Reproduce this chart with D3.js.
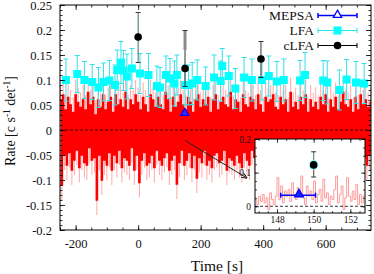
<!DOCTYPE html>
<html><head><meta charset="utf-8">
<script src="https://cdn.jsdelivr.net/npm/d3@7"></script>
<style>body{margin:0;background:#fff}svg{display:block}text{font-family:"Liberation Serif","DejaVu Serif",serif;fill:#111}</style>
</head><body><div id="chart"></div>
<script>
// ---------- DATA ----------
const lcStart = -250, lcBin = 4; // seconds
const lcRate = [
0.06,-0.11,0.07,-0.05,0.04,-0.07,0.065,-0.045,0.05,-0.08,
0.035,-0.06,0.07,-0.04,0.055,-0.075,0.045,-0.05,0.06,-0.065,
0.04,-0.07,0.075,-0.035,0.05,-0.06,0.065,-0.055,0.03,-0.14,
0.06,-0.05,0.045,-0.1,0.07,-0.06,0.04,-0.07,0.055,-0.045,
0.065,-0.08,0.035,-0.05,0.07,-0.065,0.05,-0.04,0.06,-0.075,
0.045,-0.055,0.075,-0.06,0.04,-0.07,0.06,-0.035,0.05,-0.08,
0.07,-0.05,0.055,-0.105,0.04,-0.06,0.065,-0.045,0.05,-0.07,
0.035,-0.065,0.07,-0.05,0.06,-0.075,0.045,-0.04,0.065,-0.06,
0.05,-0.07,0.04,-0.055,0.075,-0.045,0.06,-0.08,0.035,-0.06,
0.065,-0.05,0.045,-0.108,0.055,-0.065,0.07,-0.04,0.05,-0.07,
0.04,-0.06,0.065,-0.045,0.055,-0.075,0.035,-0.05,0.06,-0.096,
0.07,-0.055,0.045,-0.065,0.06,-0.04,0.05,-0.07,0.065,-0.06,
0.035,-0.075,0.06,-0.05,0.07,-0.045,0.04,-0.065,0.055,-0.06,
0.065,-0.04,0.05,-0.08,0.045,-0.055,0.075,-0.06,0.04,-0.07,
0.06,-0.05,0.055,-0.065,0.035,-0.075,0.07,-0.045,0.05,-0.06,
0.045,-0.07,0.065,-0.04,0.06,-0.055,0.04,-0.08,0.07,-0.05,
0.05,-0.06,0.035,-0.07,0.065,-0.045,0.055,-0.065,0.06,-0.04,
0.07,-0.075,0.045,-0.05,0.04,-0.06,0.065,-0.07,0.05,-0.055,
0.06,-0.045,0.035,-0.065,0.075,-0.05,0.045,-0.08,0.055,-0.06,
0.04,-0.07,0.065,-0.04,0.05,-0.055,0.07,-0.065,0.035,-0.05,
0.06,-0.075,0.045,-0.06,0.055,-0.045,0.04,-0.07,0.065,-0.05,
0.05,-0.06,0.07,-0.08,0.035,-0.055,0.06,-0.045,0.045,-0.07,
0.065,-0.05,0.04,-0.065,0.055,-0.06,0.075,-0.04,0.05,-0.075,
0.045,-0.055,0.06,-0.07,0.035,-0.05,0.065,-0.06,0.04,-0.045,
0.07,-0.065,0.05,-0.055,0.06,-0.07,0.045,-0.05,0.055];
const lcErr = 0.03;

const lfaTime = [-231,-195,-172,-147,-127,-111,-92,-74,-67,-55,-47,-36,-20,6,33,60,70,89,102,116,124,150,161,173,189,216,243,264,269,290,311,339,364,396,418,444,466,518,534,592,605,644,667,697,723];
const lfaRate = [0.10,0.112,0.10,0.096,0.085,0.096,0.099,0.09,0.12,0.135,0.119,0.107,0.123,0.113,0.11,0.088,0.085,0.11,0.103,0.093,0.11,0.09,0.09,0.093,0.10,0.088,0.105,0.098,0.128,0.108,0.083,0.105,0.10,0.10,0.108,0.097,0.10,0.099,0.11,0.099,0.095,0.08,0.101,0.095,0.093];
const lfaErr  = [0.042,0.037,0.037,0.035,0.04,0.038,0.04,0.04,0.04,0.042,0.04,0.045,0.04,0.04,0.043,0.04,0.04,0.038,0.04,0.045,0.04,0.04,0.04,0.042,0.04,0.038,0.045,0.04,0.035,0.04,0.04,0.04,0.042,0.04,0.04,0.04,0.042,0.04,0.045,0.04,0.043,0.04,0.04,0.042,0.04];

const clfaTime = [0,150,393];
const clfaRate = [0.186,0.123,0.142];
const clfaLo   = [0.135,0.087,0.105];
const clfaHi   = [0.235,0.199,0.177];

const mepsaTime = [149.2], mepsaRate = [0.033], mepsaTLo = [148.2], mepsaTHi = [150.1];

const fineStart = 146.8, fineBin = 0.1;
const fineRate = [
0.02,0.005,0.03,0.015,0.035,0.01,0.025,-0.01,0.04,0.02,
0.005,0.03,0.085,0.02,0.06,0.01,0.045,0.03,0.05,0.015,
0.07,0.035,0.02,0.055,0.04,0.09,0.025,0.005,0.06,0.03,
0.045,0.02,0.075,0.01,0.035,0.05,0.015,0.08,0.025,0.04,
0.005,0.03,0.02,0.05,0.09,0.01,0.035,0.06,-0.01,0.025,
0.085,0.03,0.015,0.045,0.02,0.065,0.005,0.035,0.01,0.03];

const xTicks = [-200,0,200,400,600];
const yTicks = [-0.2,-0.15,-0.1,-0.05,0,0.05,0.1,0.15,0.2,0.25];
const insetXTicks = [148,150,152];
const insetYTicks = [0,0.1,0.2];
const legendLabels = ["MEPSA","LFA","cLFA"];

// ---------- DRAW ----------
const W=374,H=274;
const svg=d3.select("#chart").append("svg").attr("width",W).attr("height",H);
const L=60,R=371,T=5,B=230;
const x=d3.scaleLinear().domain([-250,745]).range([L,R]);
const y=d3.scaleLinear().domain([-0.2,0.25]).range([B,T]);
const fmt=d=>String(+d.toFixed(3));

svg.append("clipPath").attr("id","cm").append("rect").attr("x",L).attr("y",T).attr("width",R-L).attr("height",B-T);
const pm=svg.append("g").attr("clip-path","url(#cm)");

const lc=lcRate.map((v,i)=>({t:lcStart+i*lcBin,v}));
// pale error bars
pm.append("g").selectAll("line").data(lc).join("line")
  .attr("x1",d=>x(d.t+lcBin/2)).attr("x2",d=>x(d.t+lcBin/2))
  .attr("y1",d=>y(d.v-lcErr)).attr("y2",d=>y(d.v+lcErr))
  .attr("stroke","#ffa8a8").attr("stroke-width",1);
const lcStep=lc.concat([{t:lcStart+lc.length*lcBin,v:lcRate[lcRate.length-1]}]);
pm.append("path").datum(lcStep)
  .attr("d",d3.line().x(d=>x(d.t)).y(d=>y(d.v)).curve(d3.curveStepAfter))
  .attr("fill","none").attr("stroke","#ff0000").attr("stroke-width",1.4);

// zero line
pm.append("line").attr("x1",L).attr("x2",R).attr("y1",y(0)).attr("y2",y(0))
  .attr("stroke","#000").attr("stroke-width",0.8).attr("stroke-dasharray","3,2");

// arrow
svg.append("defs").append("marker").attr("id","ah").attr("viewBox","0 0 10 10").attr("refX",9).attr("refY",5)
  .attr("markerWidth",6).attr("markerHeight",6).attr("orient","auto")
  .append("path").attr("d","M0,1 L10,5 L0,9").attr("fill","none").attr("stroke","#222").attr("stroke-width",1.5);
svg.append("line").attr("x1",x(150)).attr("y1",y(-0.021)).attr("x2",x(348)).attr("y2",y(-0.096))
  .attr("stroke","#222").attr("stroke-width",1).attr("marker-end","url(#ah)");

// LFA
const lfa=lfaTime.map((t,i)=>({t,v:lfaRate[i],e:lfaErr[i]}));
const gl=pm.append("g");
lfa.forEach(d=>{
  const cx=x(d.t);
  gl.append("line").attr("x1",cx).attr("x2",cx).attr("y1",y(d.v-d.e)).attr("y2",y(d.v+d.e)).attr("stroke","#33e0e8").attr("stroke-width",1);
  [d.v-d.e,d.v+d.e].forEach(v=>gl.append("line").attr("x1",cx-2.5).attr("x2",cx+2.5).attr("y1",y(v)).attr("y2",y(v)).attr("stroke","#33e0e8").attr("stroke-width",1));
});
gl.selectAll("rect").data(lfa).join("rect").attr("x",d=>x(d.t)-4).attr("y",d=>y(d.v)-4).attr("width",8).attr("height",8).attr("fill","#00ffff");

// cLFA
const clfa=clfaTime.map((t,i)=>({t,v:clfaRate[i],lo:clfaLo[i],hi:clfaHi[i]}));
const gc=pm.append("g");
clfa.forEach((d,i)=>{
  const cx=x(d.t);
  gc.append("line").attr("x1",cx).attr("x2",cx).attr("y1",y(d.lo)).attr("y2",y(d.hi)).attr("stroke",i==0?"#3d6d6d":"#333").attr("stroke-width",1);
  if(i==1) gc.append("line").attr("x1",cx).attr("x2",cx).attr("y1",y(0.16)).attr("y2",y(d.hi)).attr("stroke","#8a8a8a").attr("stroke-width",3);
  [d.lo,d.hi].forEach(v=>gc.append("line").attr("x1",cx-2.5).attr("x2",cx+2.5).attr("y1",y(v)).attr("y2",y(v)).attr("stroke","#333").attr("stroke-width",1));
  gc.append("circle").attr("cx",cx).attr("cy",y(d.v)).attr("r",3.8).attr("fill","#000");
});

// MEPSA main
mepsaTime.forEach((t,i)=>{
  const cx=x(t),cy=y(mepsaRate[i]);
  pm.append("path").attr("d",d3.symbol(d3.symbolTriangle,28)()).attr("transform",`translate(${cx},${cy-0.5})`)
    .attr("fill","#3030ff").attr("stroke","#0000ff").attr("stroke-width",1.2);
});

// ---------- main axes ----------
function styleAxis(g){g.select(".domain").remove();g.selectAll("line").attr("stroke","#000").attr("stroke-width",0.8);g.selectAll("text").attr("font-size",12.5).attr("fill","#111");}
const minorX=d3.range(-250,746,50), minorY=d3.range(-0.2,0.2501,0.01).map(v=>+v.toFixed(2));
svg.append("g").attr("transform",`translate(0,${B})`).call(d3.axisBottom(x).tickValues(minorX).tickSize(-2.5).tickFormat("")).call(styleAxis);
svg.append("g").attr("transform",`translate(0,${B})`).call(d3.axisBottom(x).tickValues(xTicks).tickSizeInner(-5).tickSizeOuter(0).tickPadding(9).tickFormat(d=>String(d))).call(styleAxis);
svg.append("g").attr("transform",`translate(0,${T})`).call(d3.axisTop(x).tickValues(minorX).tickSize(-2.5).tickFormat("")).call(styleAxis);
svg.append("g").attr("transform",`translate(0,${T})`).call(d3.axisTop(x).tickValues(xTicks).tickSize(-5).tickFormat("")).call(styleAxis);
svg.append("g").attr("transform",`translate(${L},0)`).call(d3.axisLeft(y).tickValues(minorY).tickSize(-2.5).tickFormat("")).call(styleAxis);
svg.append("g").attr("transform",`translate(${L},0)`).call(d3.axisLeft(y).tickValues(yTicks).tickSizeInner(-5).tickSizeOuter(0).tickPadding(8).tickFormat(fmt)).call(styleAxis);
svg.append("g").attr("transform",`translate(${R},0)`).call(d3.axisRight(y).tickValues(minorY).tickSize(-2.5).tickFormat("")).call(styleAxis);
svg.append("g").attr("transform",`translate(${R},0)`).call(d3.axisRight(y).tickValues(yTicks).tickSize(-5).tickFormat("")).call(styleAxis);
svg.append("rect").attr("x",L).attr("y",T).attr("width",R-L).attr("height",B-T).attr("fill","none").attr("stroke","#000").attr("stroke-width",1);

// titles
svg.append("text").attr("x",217).attr("y",271).attr("text-anchor","middle").attr("font-size",15.5).text("Time [s]");
const yt=svg.append("text").attr("transform","translate(15,121) rotate(-90)").attr("text-anchor","middle").attr("font-size",14);
yt.append("tspan").text("Rate [c s");
yt.append("tspan").attr("dy",-5).attr("font-size",9.5).text("-1");
yt.append("tspan").attr("dy",5).text(" det");
yt.append("tspan").attr("dy",-5).attr("font-size",9.5).text("-1");
yt.append("tspan").attr("dy",5).text("]");

// ---------- inset ----------
const iL=255,iR=365,iT=139,iB=213;
const xi=d3.scaleLinear().domain([146.8,152.8]).range([iL,iR]);
const yi=d3.scaleLinear().domain([-0.02,0.2]).range([iB,iT]);
const ig=svg.append("g");
ig.append("rect").attr("x",iL).attr("y",iT).attr("width",iR-iL).attr("height",iB-iT).attr("fill","#fff");
svg.append("clipPath").attr("id","ci").append("rect").attr("x",iL).attr("y",iT).attr("width",iR-iL).attr("height",iB-iT);
const ic=ig.append("g").attr("clip-path","url(#ci)");
const fine=fineRate.map((v,i)=>({t:fineStart+i*fineBin,v}));
fine.push({t:fineStart+fineRate.length*fineBin,v:fineRate[fineRate.length-1]});
ic.append("path").datum(fine).attr("d",d3.line().x(d=>xi(d.t)).y(d=>yi(d.v)).curve(d3.curveStepAfter))
  .attr("fill","none").attr("stroke","#ff9a9a").attr("stroke-width",1);
ic.append("line").attr("x1",iL).attr("x2",iR).attr("y1",yi(0)).attr("y2",yi(0)).attr("stroke","#000").attr("stroke-width",0.8).attr("stroke-dasharray","3,2");
mepsaTime.forEach((t,i)=>{
  const cy=yi(mepsaRate[i]);
  ic.append("line").attr("x1",xi(mepsaTLo[i])).attr("x2",xi(mepsaTHi[i])).attr("y1",cy).attr("y2",cy).attr("stroke","#0000ff").attr("stroke-width",1.5);
  [mepsaTLo[i],mepsaTHi[i]].forEach(v=>ic.append("line").attr("x1",xi(v)).attr("x2",xi(v)).attr("y1",cy-2.5).attr("y2",cy+2.5).attr("stroke","#0000ff").attr("stroke-width",1.5));
  ic.append("path").attr("d",d3.symbol(d3.symbolTriangle,34)()).attr("transform",`translate(${xi(t)},${cy-0.8})`).attr("fill","#2020ff").attr("stroke","#0000ff").attr("stroke-width",1.2);
});
clfa.filter(d=>d.t===150).forEach(d=>{
  const cx=xi(d.t);
  ic.append("line").attr("x1",cx).attr("x2",cx).attr("y1",yi(d.lo)).attr("y2",yi(d.v)).attr("stroke","#7a5a50").attr("stroke-width",1.2);
  ic.append("line").attr("x1",cx).attr("x2",cx).attr("y1",yi(d.v)).attr("y2",yi(0.162)).attr("stroke","#5a8a8a").attr("stroke-width",1.2);
  [d.lo,0.162].forEach(v=>ic.append("line").attr("x1",cx-2.5).attr("x2",cx+2.5).attr("y1",yi(v)).attr("y2",yi(v)).attr("stroke","#333").attr("stroke-width",1));
  ic.append("circle").attr("cx",cx).attr("cy",yi(d.v)).attr("r",4.6).attr("fill","#66ffff");
  ic.append("circle").attr("cx",cx).attr("cy",yi(d.v)).attr("r",3.8).attr("fill","#000");
});
function styleIn(g){g.select(".domain").remove();g.selectAll("line").attr("stroke","#000").attr("stroke-width",0.7);g.selectAll("text").attr("font-size",9.5).attr("fill","#111");}
const iMinX=d3.range(147,152.8,0.5), iMinY=d3.range(-0.0,0.2001,0.025);
ig.append("g").attr("transform",`translate(0,${iB})`).call(d3.axisBottom(xi).tickValues(iMinX).tickSize(-2).tickFormat("")).call(styleIn);
ig.append("g").attr("transform",`translate(0,${iB})`).call(d3.axisBottom(xi).tickValues(insetXTicks).tickSizeInner(-4).tickSizeOuter(0).tickPadding(3).tickFormat(d=>String(d))).call(styleIn);
ig.append("g").attr("transform",`translate(0,${iT})`).call(d3.axisTop(xi).tickValues(iMinX).tickSize(-2).tickFormat("")).call(styleIn);
ig.append("g").attr("transform",`translate(0,${iT})`).call(d3.axisTop(xi).tickValues(insetXTicks).tickSize(-4).tickFormat("")).call(styleIn);
ig.append("g").attr("transform",`translate(${iL},0)`).call(d3.axisLeft(yi).tickValues(iMinY).tickSize(-2).tickFormat("")).call(styleIn);
ig.append("g").attr("transform",`translate(${iL},0)`).call(d3.axisLeft(yi).tickValues(insetYTicks).tickSizeInner(-4).tickSizeOuter(0).tickPadding(4).tickFormat(fmt)).call(styleIn);
ig.append("g").attr("transform",`translate(${iR},0)`).call(d3.axisRight(yi).tickValues(iMinY).tickSize(-2).tickFormat("")).call(styleIn);
ig.append("g").attr("transform",`translate(${iR},0)`).call(d3.axisRight(yi).tickValues(insetYTicks).tickSize(-4).tickFormat("")).call(styleIn);
ig.append("rect").attr("x",iL).attr("y",iT).attr("width",iR-iL).attr("height",iB-iT).attr("fill","none").attr("stroke","#000").attr("stroke-width",1);

// ---------- legend ----------
const lg=svg.append("g");
const lcol=["#0000ff","#22e5ee","#000"];
legendLabels.forEach((name,i)=>{
  const yy=15.5+i*15, x0=318,x1=357,xm=337.5;
  lg.append("text").attr("x",314).attr("y",yy+4.6).attr("text-anchor","end").attr("font-size",13.5).text(name);
  lg.append("line").attr("x1",x0).attr("x2",x1).attr("y1",yy).attr("y2",yy).attr("stroke",lcol[i]).attr("stroke-width",i==0?1.5:1);
  [x0,x1].forEach(v=>lg.append("line").attr("x1",v).attr("x2",v).attr("y1",yy-2.5).attr("y2",yy+2.5).attr("stroke",lcol[i]).attr("stroke-width",i==0?1.5:1));
  if(i==0) lg.append("path").attr("d",d3.symbol(d3.symbolTriangle,30)()).attr("transform",`translate(${xm},${yy-0.5})`).attr("fill","#fff").attr("stroke","#0000ff").attr("stroke-width",1.3);
  if(i==1) lg.append("rect").attr("x",xm-4).attr("y",yy-4).attr("width",8).attr("height",8).attr("fill","#00ffff");
  if(i==2) lg.append("circle").attr("cx",xm).attr("cy",yy).attr("r",3.8).attr("fill","#000");
});
</script></body></html>
